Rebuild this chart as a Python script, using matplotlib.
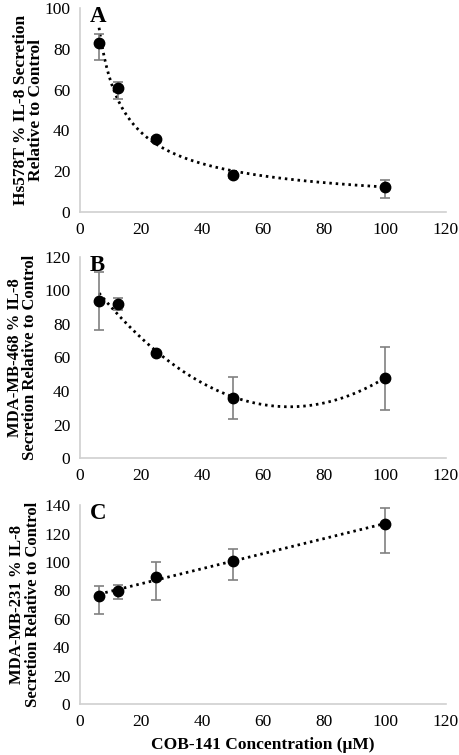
import numpy as np
import matplotlib.pyplot as plt

plt.rcParams['font.family'] = ['Liberation Serif', 'DejaVu Serif']

conc = np.array([6.25, 12.5, 25, 50, 100])

# panel A - Hs578T
a_y = np.array([82.7, 60.6, 35.9, 18.3, 12.4])
a_lo = np.array([8.2, 5.4, 1.0, 1.5, 5.5])
a_hi = np.array([4.4, 3.1, 1.0, 1.5, 3.1])

# panel B - MDA-MB-468
b_y = np.array([93.8, 91.8, 62.5, 35.9, 48.0])
b_lo = np.array([17.4, 3.5, 1.0, 12.7, 19.2])
b_hi = np.array([17.2, 3.6, 1.0, 12.7, 18.4])

# panel C - MDA-MB-231
c_y = np.array([76.3, 79.8, 89.7, 101.0, 126.6])
c_lo = np.array([12.9, 5.6, 16.4, 13.6, 20.2])
c_hi = np.array([7.1, 4.0, 10.2, 8.0, 11.3])

ylabels = ['Hs578T % IL-8 Secretion\nRelative to Control',
           'MDA-MB-468 % IL-8\nSecretion Relative to Control',
           'MDA-MB-231 % IL-8\nSecretion Relative to Control']
letters = ['A', 'B', 'C']
ymaxes = [100, 120, 140]
fits = ['power', 'poly2', 'linear']

fig = plt.figure(figsize=(4.59, 7.55), dpi=100)
rects = [[0.1743, 0.7192, 0.7974, 0.2702],
         [0.1743, 0.3930, 0.7974, 0.2670],
         [0.1743, 0.0675, 0.7974, 0.2632]]
label_x = [-0.098, -0.115, -0.107]
label_size = [12.5, 12, 12]

xs = np.linspace(conc.min(), conc.max(), 300)
for i, (rect, y, lo, hi, lab, let, ymax, fit) in enumerate(zip(
        rects, [a_y, b_y, c_y], [a_lo, b_lo, c_lo], [a_hi, b_hi, c_hi],
        ylabels, letters, ymaxes, fits)):
    ax = fig.add_axes(rect)
    # excel style trendlines
    if fit == 'power':
        b, lna = np.polyfit(np.log(conc), np.log(y), 1)
        ys = np.exp(lna) * xs ** b
    elif fit == 'poly2':
        ys = np.polyval(np.polyfit(conc, y, 2), xs)
    else:
        ys = np.polyval(np.polyfit(conc, y, 1), xs)
    ax.plot(xs, ys, color='black', lw=2.0, linestyle=(0, (0.9, 1.4)),
            zorder=2)
    ax.errorbar(conc, y, yerr=[lo, hi], fmt='o', color='black', ms=7.5,
                ecolor='#808080', elinewidth=1.2, capsize=3.5, capthick=1.2,
                zorder=3)
    ax.set_xlim(0, 120)
    ax.set_ylim(0, ymax)
    ax.set_xticks(range(0, 121, 20))
    ax.set_yticks(range(0, ymax + 1, 20))
    ax.tick_params(length=0, labelsize=12.5, pad=7)
    for s in ['top', 'right']:
        ax.spines[s].set_visible(False)
    for s in ['left', 'bottom']:
        ax.spines[s].set_color('#d0d0d0')
        ax.spines[s].set_linewidth(1.2)
    ax.set_ylabel(lab, fontsize=label_size[i], fontweight='bold',
                  linespacing=0.95)
    ax.yaxis.set_label_coords(label_x[i], 0.5)
    ax.text(0.027, 1.01, let, transform=ax.transAxes, fontsize=16.5,
            fontweight='bold', va='top', ha='left')

ax.set_xlabel('COB-141 Concentration (\u03bcM)', fontsize=12.5,
              fontweight='bold', labelpad=5)

fig.savefig('out.png', dpi=100)
